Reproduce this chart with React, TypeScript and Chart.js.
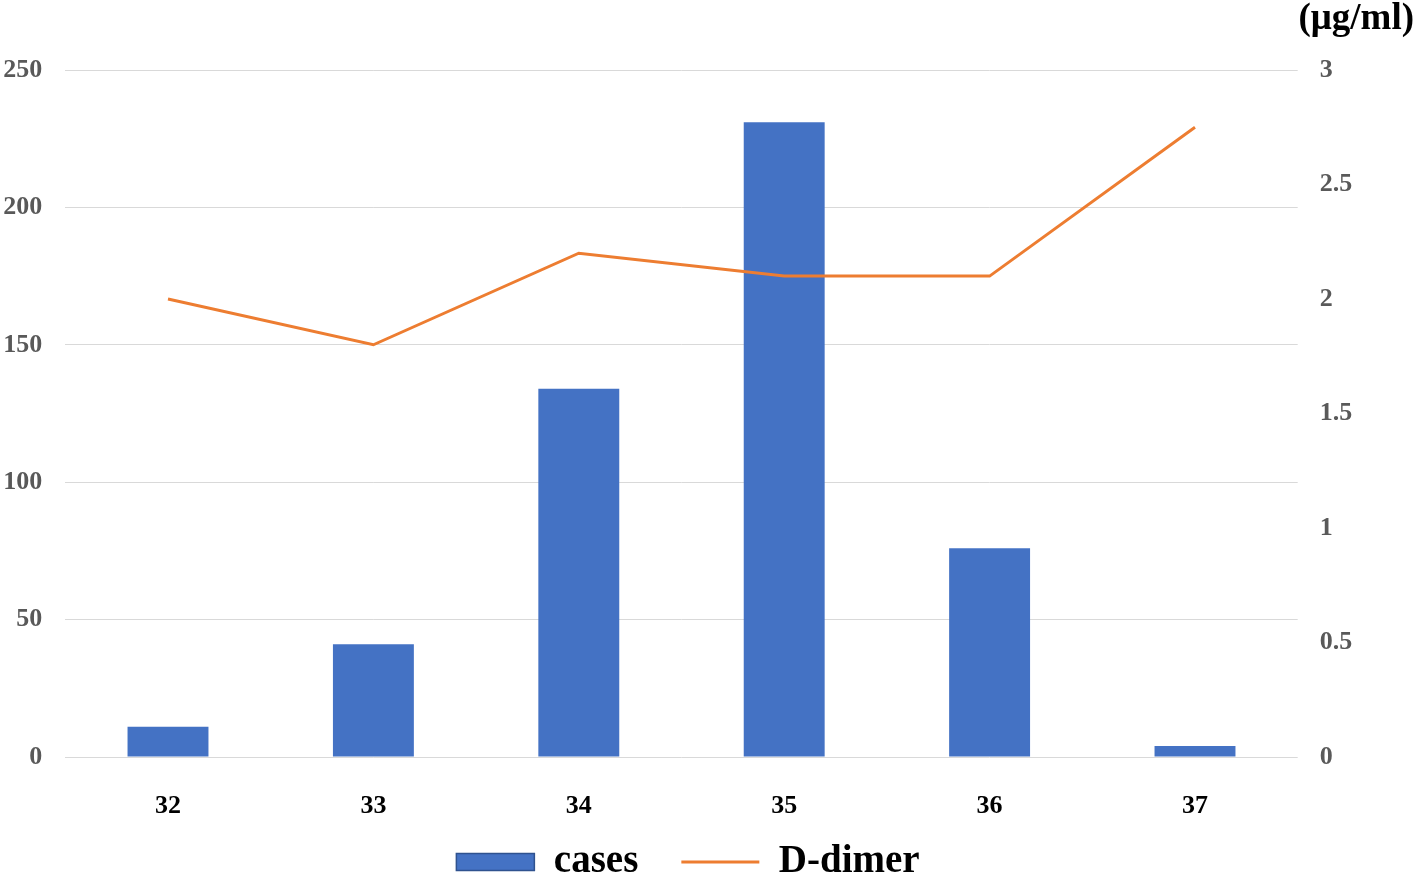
import React, { useEffect, useRef } from 'react';
import { Chart, registerables } from 'chart.js';

Chart.register(...registerables);

const weeks = ['32', '33', '34', '35', '36', '37'];
const cases = [11, 41, 134, 231, 76, 4];
const dDimer = [2.0, 1.8, 2.2, 2.1, 2.1, 2.75];
const leftTicks = [0, 50, 100, 150, 200, 250];
const rightTicks = [0, 0.5, 1, 1.5, 2, 2.5, 3];
const seriesNames = ['cases', 'D-dimer'];
const unitLabel = '(μg/ml)';

const FONT = '"Liberation Serif", "Times New Roman", serif';
const BAR_COLOR = '#4472C4';
const BAR_BORDER = '#2F528F';
const LINE_COLOR = '#ED7D31';

// moves the legend row up so it sits just under the category labels
const legendLift = {
  id: 'legendLift',
  afterLayout(chart: any) {
    const l = chart.legend;
    if (!l) return;
    l.top -= 27.5;
  },
};

export default function App() {
  const ref = useRef<HTMLCanvasElement | null>(null);

  useEffect(() => {
    if (!ref.current) return;
    const chart = new Chart(ref.current, {
      type: 'bar',
      data: {
        labels: weeks,
        datasets: [
          {
            type: 'bar',
            label: seriesNames[0],
            data: cases,
            backgroundColor: BAR_COLOR,
            borderColor: BAR_COLOR,
            borderWidth: 0,
            categoryPercentage: 1,
            barPercentage: 0.394,
            yAxisID: 'y',
            order: 1,
          },
          {
            type: 'line',
            label: seriesNames[1],
            data: dDimer,
            borderColor: LINE_COLOR,
            backgroundColor: LINE_COLOR,
            borderWidth: 3,
            pointRadius: 0,
            tension: 0,
            yAxisID: 'y1',
            order: 0,
          } as any,
        ],
      },
      plugins: [legendLift],
      options: {
        responsive: false,
        animation: false,
        layout: { padding: { top: 70, left: 0, right: 40, bottom: 0 } },
        plugins: {
          tooltip: { enabled: false },
          legend: {
            position: 'bottom',
            maxHeight: 56,
            labels: {
              usePointStyle: true,
              pointStyleWidth: 78,
              boxHeight: 17,
              padding: 43,
              color: '#000',
              font: { family: FONT, size: 39, weight: 'bold' },
              generateLabels: () => [
                {
                  text: seriesNames[0],
                  fillStyle: BAR_COLOR,
                  strokeStyle: BAR_BORDER,
                  lineWidth: 1.5,
                  pointStyle: 'rect',
                  datasetIndex: 0,
                  hidden: false,
                  fontColor: '#000',
                },
                {
                  text: seriesNames[1],
                  fillStyle: LINE_COLOR,
                  strokeStyle: LINE_COLOR,
                  lineWidth: 3,
                  pointStyle: 'line',
                  datasetIndex: 1,
                  hidden: false,
                  fontColor: '#000',
                },
              ],
            },
          } as any,
        },
        scales: {
          x: {
            grid: { display: false, drawTicks: false },
            border: { display: false },
            ticks: {
              color: '#000',
              font: { family: FONT, size: 26, weight: 'bold' },
              padding: 34,
            },
            afterFit: (s: any) => {
              s.height = 70;
            },
          },
          y: {
            position: 'left',
            min: leftTicks[0],
            max: leftTicks[leftTicks.length - 1],
            ticks: {
              stepSize: leftTicks[1] - leftTicks[0],
              color: '#595959',
              font: { family: FONT, size: 26, weight: 'bold' },
              padding: 23,
            },
            grid: { color: '#D9D9D9', lineWidth: 1, drawTicks: false },
            border: { display: false },
            afterFit: (s: any) => {
              s.width = 65.3;
            },
          },
          y1: {
            position: 'right',
            min: rightTicks[0],
            max: rightTicks[rightTicks.length - 1],
            ticks: {
              stepSize: rightTicks[1] - rightTicks[0],
              color: '#595959',
              font: { family: FONT, size: 26, weight: 'bold' },
              padding: 22,
              callback: (v: any) => String(Number(v)),
            },
            grid: { display: false, drawTicks: false },
            border: { display: false },
            afterFit: (s: any) => {
              s.width = 78.3;
            },
          },
        },
      } as any,
    });
    return () => chart.destroy();
  }, []);

  return (
    <div style={{ position: 'fixed', left: 0, top: 0, width: 1416, height: 883 }}>
      <canvas ref={ref} width={1416} height={883} style={{ display: 'block' }} />
      <div
        style={{
          position: 'absolute',
          right: 2,
          top: -5,
          fontFamily: FONT,
          fontWeight: 'bold',
          fontSize: 37,
          lineHeight: 1.2,
          color: '#000',
          whiteSpace: 'nowrap',
        }}
      >
        {unitLabel}
      </div>
    </div>
  );
}
